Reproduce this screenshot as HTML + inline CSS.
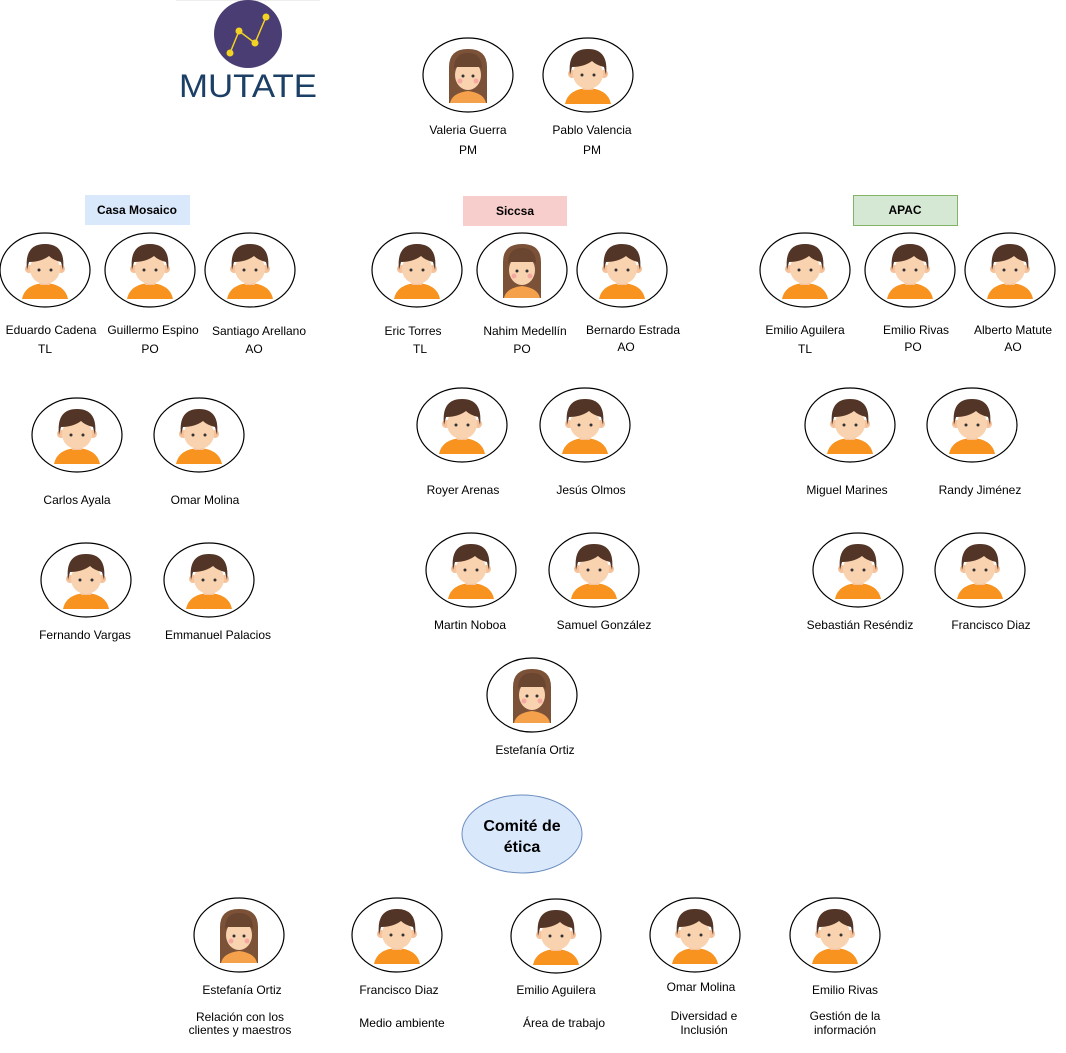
<!DOCTYPE html>
<html><head><meta charset="utf-8"><style>
html,body{margin:0;padding:0;background:#fff;}
svg{display:block;font-family:"Liberation Sans",Arial,sans-serif;}
text{font-size:12px;fill:#000;text-anchor:middle;}
</style></head><body>
<svg width="1066" height="1053" viewBox="0 0 1066 1053" xmlns="http://www.w3.org/2000/svg">
<defs>
<g id="m">
<ellipse rx="45" ry="37" fill="#fff" stroke="#000" stroke-width="1.2"/>
<path d="M-23,29 Q-20,14 0,13 Q20,14 23,29 Z" fill="#f7931e"/>
<rect x="-5" y="8" width="10" height="7" fill="#f5c29b"/>
<circle cx="-16" cy="-1" r="4" fill="#f5c29b"/>
<circle cx="16" cy="-1" r="4" fill="#f5c29b"/>
<ellipse cx="0" cy="-1" rx="15" ry="15" fill="#f9d2b0"/>
<path d="M-18,0 Q-21,-26 0,-26 Q21,-26 18,0 L16,-8 Q8,-10 4,-14 Q-4,-8 -16,-8 Z" fill="#523526"/>
<circle cx="-6" cy="0" r="1.5" fill="#333"/><circle cx="6" cy="0" r="1.5" fill="#333"/>
</g>
<g id="f">
<ellipse rx="45" ry="37" fill="#fff" stroke="#000" stroke-width="1.2"/>
<path d="M-19,28 L-19,-8 Q-19,-26 0,-26 Q19,-26 19,-8 L19,28 Z" fill="#7b5237"/>
<path d="M-18,28 Q-16,18 0,16 Q16,18 18,28 Z" fill="#f5a04a"/>
<ellipse cx="0" cy="0" rx="13" ry="15" fill="#f9d2b0"/>
<path d="M-14,-6 Q-14,-22 0,-22 Q14,-22 14,-6 L12,-8 L-12,-8 Z" fill="#6a4530"/>
<circle cx="-5" cy="1" r="1.5" fill="#333"/><circle cx="5" cy="1" r="1.5" fill="#333"/>
<circle cx="-8" cy="6" r="2.5" fill="#f5a8a0"/><circle cx="8" cy="6" r="2.5" fill="#f5a8a0"/>
</g>
</defs>

<!-- logo -->
<rect x="176" y="0" width="144" height="1" fill="#eee"/>
<circle cx="248" cy="34" r="34" fill="#4a3d73"/>
<polyline points="230,53 239,31 255,43 266,17" fill="none" stroke="#f2d324" stroke-width="1.5"/>
<circle cx="230" cy="53" r="3.5" fill="#f2d324"/><circle cx="239" cy="31" r="3.5" fill="#f2d324"/>
<circle cx="255" cy="43" r="3.5" fill="#f2d324"/><circle cx="266" cy="17" r="3.5" fill="#f2d324"/>
<text x="248" y="97" textLength="138" lengthAdjust="spacingAndGlyphs" style="font-size:32px;fill:#1c3f66">MUTATE</text>

<use href="#f" x="468" y="75"/><use href="#m" x="588" y="75"/>
<text x="468" y="134">Valeria Guerra</text><text x="468" y="154">PM</text>
<text x="592" y="134">Pablo Valencia</text><text x="592" y="154">PM</text>

<rect x="85" y="195" width="105" height="30" fill="#dae8fc"/>
<text x="137" y="214" style="font-weight:bold">Casa Mosaico</text>
<rect x="463" y="196" width="104" height="30" fill="#f8cecc"/>
<text x="515" y="215" style="font-weight:bold">Siccsa</text>
<rect x="853.5" y="195.5" width="104" height="30" fill="#d5e8d4" stroke="#82b366"/>
<text x="905" y="214" style="font-weight:bold">APAC</text>

<use href="#m" x="45" y="270"/><use href="#m" x="150" y="270"/><use href="#m" x="250" y="270"/>
<text x="51" y="334">Eduardo Cadena</text><text x="45" y="353">TL</text>
<text x="153" y="334">Guillermo Espino</text><text x="150" y="353">PO</text>
<text x="259" y="335">Santiago Arellano</text><text x="254" y="353">AO</text>

<use href="#m" x="417" y="270"/><use href="#f" x="522" y="270"/><use href="#m" x="622" y="270"/>
<text x="413" y="335">Eric Torres</text><text x="420" y="353">TL</text>
<text x="525" y="335">Nahim Medellín</text><text x="522" y="353">PO</text>
<text x="633" y="334">Bernardo Estrada</text><text x="626" y="351">AO</text>

<use href="#m" x="805" y="270"/><use href="#m" x="910" y="270"/><use href="#m" x="1010" y="270"/>
<text x="805" y="334">Emilio Aguilera</text><text x="805" y="353">TL</text>
<text x="916" y="334">Emilio Rivas</text><text x="913" y="351">PO</text>
<text x="1013" y="334">Alberto Matute</text><text x="1013" y="351">AO</text>

<use href="#m" x="77" y="435"/><use href="#m" x="199" y="435"/>
<text x="77" y="504">Carlos Ayala</text><text x="205" y="504">Omar Molina</text>
<use href="#m" x="86" y="580"/><use href="#m" x="209" y="580"/>
<text x="85" y="639">Fernando Vargas</text><text x="218" y="639">Emmanuel Palacios</text>

<use href="#m" x="462" y="425"/><use href="#m" x="585" y="425"/>
<text x="463" y="494">Royer Arenas</text><text x="591" y="494">Jesús Olmos</text>
<use href="#m" x="471" y="570"/><use href="#m" x="594" y="570"/>
<text x="470" y="629">Martin Noboa</text><text x="604" y="629">Samuel González</text>
<use href="#f" x="532" y="695"/>
<text x="535" y="754">Estefanía Ortiz</text>

<use href="#m" x="850" y="425"/><use href="#m" x="972" y="425"/>
<text x="847" y="494">Miguel Marines</text><text x="980" y="494">Randy Jiménez</text>
<use href="#m" x="858" y="570"/><use href="#m" x="980" y="570"/>
<text x="860" y="629">Sebastián Reséndiz</text><text x="991" y="629">Francisco Diaz</text>

<ellipse cx="522" cy="834" rx="60" ry="39" fill="#dae8fc" stroke="#6c8ebf"/>
<text x="522" y="831" style="font-size:16px;font-weight:bold">Comité de</text>
<text x="522" y="852" style="font-size:16px;font-weight:bold">ética</text>

<use href="#f" x="239" y="935"/><use href="#m" x="397" y="935"/><use href="#m" x="556" y="936"/>
<use href="#m" x="695" y="935"/><use href="#m" x="835" y="935"/>
<text x="242" y="994">Estefanía Ortiz</text>
<text x="240" y="1021">Relación con los</text><text x="240" y="1034">clientes y maestros</text>
<text x="399" y="994">Francisco Diaz</text><text x="402" y="1027">Medio ambiente</text>
<text x="556" y="994">Emilio Aguilera</text><text x="564" y="1027">Área de trabajo</text>
<text x="701" y="991">Omar Molina</text>
<text x="704" y="1020">Diversidad e</text><text x="704" y="1034">Inclusión</text>
<text x="845" y="994">Emilio Rivas</text>
<text x="845" y="1020">Gestión de la</text><text x="845" y="1034">información</text>
</svg>
</body></html>
